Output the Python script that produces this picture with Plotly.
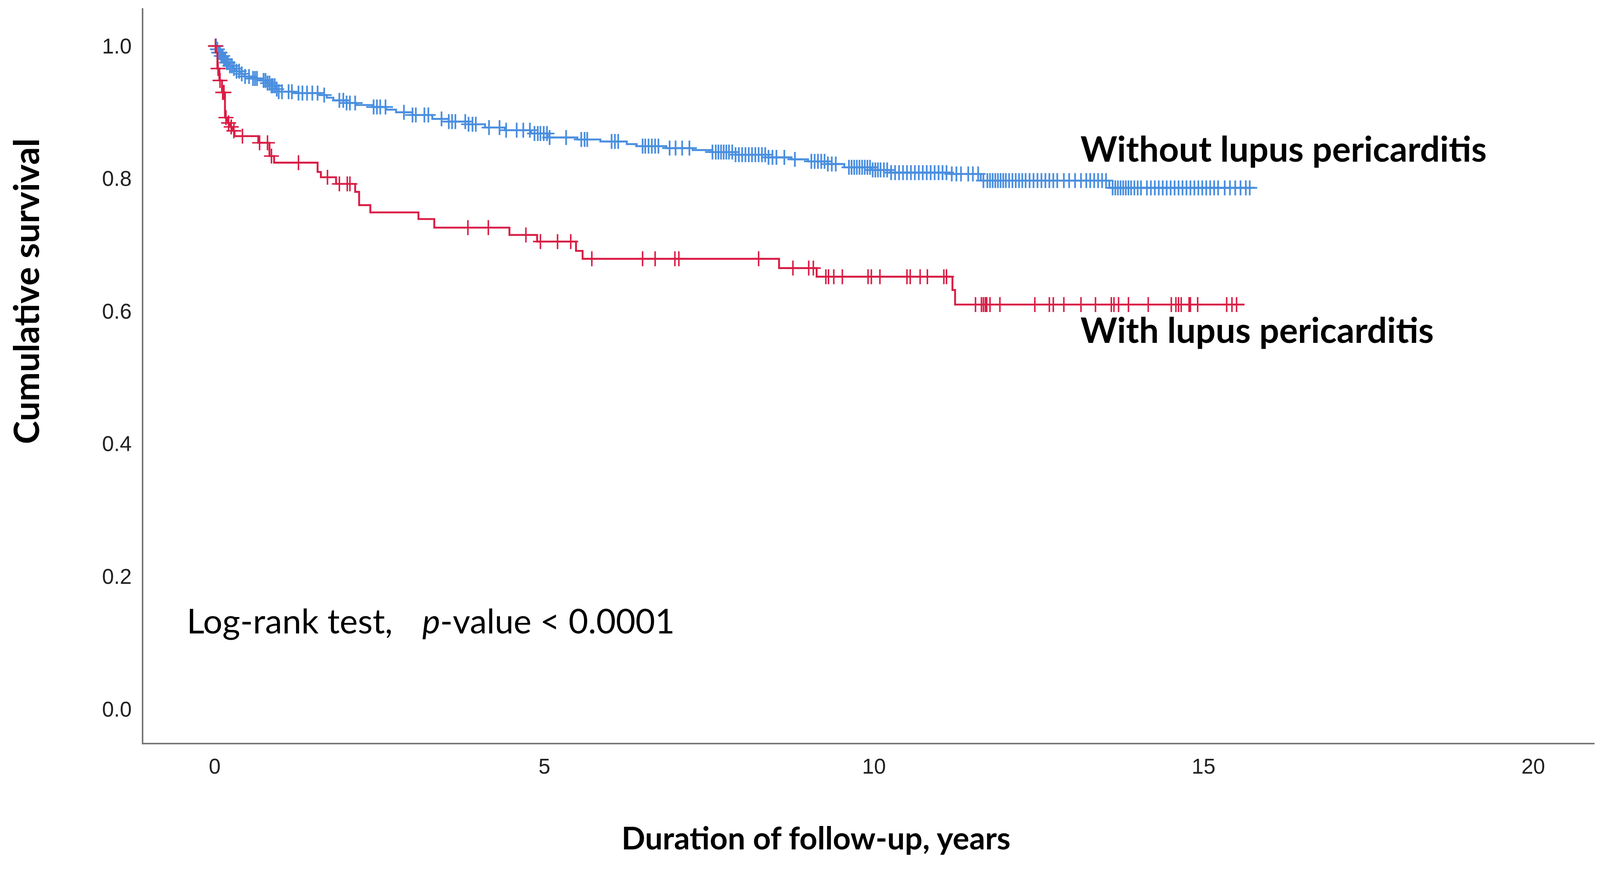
import numpy as np
import plotly.graph_objects as go

# ---------------- data ----------------
# Without lupus pericarditis: step times (years) and survival after each step
blue_step_t = [0.00, 0.03, 0.06, 0.10, 0.14, 0.18, 0.22, 0.27, 0.32, 0.38, 0.45, 0.55,
               0.70, 0.78, 0.86, 0.92, 0.97, 1.20, 1.60, 1.70, 1.80, 2.00, 2.15, 2.40,
               2.60, 2.75, 3.00, 3.30, 3.55, 3.85, 4.10, 4.40, 4.80, 5.05, 5.50, 5.85,
               6.25, 6.40, 6.85, 7.25, 7.55, 7.90, 8.40, 8.75, 9.00, 9.30, 9.55, 9.95,
               10.25, 11.15, 11.62, 13.57]
blue_step_s = [1.000, 0.995, 0.990, 0.985, 0.980, 0.975, 0.970, 0.966, 0.962, 0.958, 0.954, 0.951,
               0.948, 0.944, 0.940, 0.935, 0.931, 0.929, 0.926, 0.922, 0.918, 0.914, 0.911, 0.908,
               0.904, 0.900, 0.896, 0.890, 0.886, 0.882, 0.877, 0.873, 0.868, 0.862, 0.859, 0.856,
               0.852, 0.849, 0.846, 0.843, 0.840, 0.836, 0.832, 0.829, 0.826, 0.822, 0.817, 0.813,
               0.809, 0.807, 0.797, 0.786]
blue_end_t = 15.78

blue_censor_t = [0.02, 0.04, 0.06, 0.08, 0.10, 0.12, 0.14, 0.16, 0.18, 0.20, 0.23, 0.26, 0.29,
                 0.33, 0.37, 0.41, 0.46, 0.52, 0.58, 0.61, 0.64, 0.74, 0.77, 0.80, 0.83, 0.86,
                 0.88, 0.91, 0.94, 0.97, 1.02, 1.12, 1.17, 1.27, 1.33, 1.40, 1.48, 1.56, 1.66,
                 1.89, 1.95, 2.00, 2.05, 2.13, 2.41, 2.46, 2.51, 2.59, 2.87, 3.00, 3.05, 3.18,
                 3.24, 3.44, 3.55, 3.60, 3.65, 3.80, 3.85, 3.91, 3.96, 4.16, 4.32, 4.42, 4.58,
                 4.68, 4.78, 4.85, 4.90, 4.94, 4.99, 5.04, 5.08, 5.33, 5.56, 5.61, 5.65, 6.02,
                 6.07, 6.12, 6.49, 6.53, 6.58, 6.63, 6.68, 6.73, 6.90, 6.99, 7.09, 7.20,
                 7.55, 7.60, 7.64, 7.68, 7.72, 7.76, 7.80, 7.85, 7.90, 7.95, 8.00, 8.05, 8.10,
                 8.15, 8.20, 8.25, 8.30, 8.35, 8.40, 8.46, 8.52, 8.64, 8.80,
                 9.05, 9.10, 9.15, 9.20, 9.25, 9.30, 9.36, 9.42,
                 9.62, 9.66, 9.70, 9.74, 9.78, 9.82, 9.86, 9.90, 9.94, 9.98, 10.02, 10.06,
                 10.10, 10.15, 10.20, 10.26, 10.32, 10.38, 10.44, 10.50, 10.56, 10.62, 10.68,
                 10.74, 10.80, 10.86, 10.92, 10.98, 11.04, 11.10, 11.18, 11.25, 11.32, 11.43,
                 11.50, 11.58, 11.66,
                 11.72, 11.76, 11.80, 11.84, 11.88, 11.92, 11.96, 12.00, 12.05, 12.10, 12.15,
                 12.20, 12.25, 12.30, 12.36, 12.42, 12.48, 12.54, 12.60, 12.66, 12.72, 12.78,
                 12.88, 12.96, 13.05, 13.14, 13.22, 13.28, 13.34, 13.40, 13.46, 13.52,
                 13.62, 13.66, 13.70, 13.74, 13.78, 13.82, 13.86, 13.90, 13.95, 14.00, 14.05,
                 14.14, 14.20, 14.26, 14.32, 14.38, 14.44, 14.50, 14.56, 14.62, 14.68, 14.74,
                 14.80, 14.86, 14.92, 14.98, 15.04, 15.10, 15.16, 15.22, 15.32, 15.40, 15.48,
                 15.56, 15.64, 15.70]

# With lupus pericarditis
red_step_t = [0.00, 0.02, 0.04, 0.07, 0.11, 0.155, 0.19, 0.23, 0.27, 0.30, 0.66, 0.83,
              0.90, 1.56, 1.61, 1.84, 2.13, 2.19, 2.36, 3.09, 3.33, 4.47, 4.89, 5.48,
              5.58, 8.56, 9.13, 11.19, 11.23]
red_step_s = [1.000, 0.990, 0.966, 0.948, 0.930, 0.892, 0.884, 0.878, 0.872, 0.864, 0.854, 0.834,
              0.824, 0.810, 0.802, 0.792, 0.780, 0.760, 0.749, 0.739, 0.726, 0.715, 0.705, 0.691,
              0.679, 0.665, 0.652, 0.632, 0.610]
red_end_t = 15.62

red_censor_t = [0.01, 0.05, 0.08, 0.12, 0.14, 0.17, 0.21, 0.25, 0.29, 0.42, 0.68, 0.80, 0.86,
                1.27, 1.71, 1.89, 2.01, 2.05, 3.84, 4.15, 4.72, 4.94, 5.20, 5.40, 5.72, 6.49,
                6.68, 6.98, 7.04, 8.25, 8.77, 9.01, 9.08, 9.27, 9.31, 9.39, 9.52, 9.91, 9.96,
                10.09, 10.50, 10.55, 10.70, 10.81, 11.06, 11.10, 11.54, 11.63, 11.66, 11.69,
                11.71, 11.76, 11.91, 12.44, 12.66, 12.72, 12.88, 13.14, 13.36, 13.60, 13.64,
                13.71, 13.86, 14.16, 14.51, 14.58, 14.62, 14.66, 14.78, 14.80, 14.91, 15.35,
                15.43, 15.50]

x_ticks = [0, 5, 10, 15, 20]
y_ticks = [0.0, 0.2, 0.4, 0.6, 0.8, 1.0]
y_tick_text = ["0.0", "0.2", "0.4", "0.6", "0.8", "1.0"]

label_without = "Without lupus pericarditis"
label_with = "With lupus pericarditis"
logrank_a = "Log-rank test,"
logrank_b = "<i>p</i>-value < 0.0001"
x_title = "Duration of follow-up, years"
y_title = "Cumulative survival"

BLUE = "#4a8fdf"
RED = "#d91e46"

# page is rendered with a ~1.026 device scale: convert screenshot px -> css px
S = 4096 / 4202


def px(v):
    return v * S


def level_at(step_t, step_s, t):
    idx = np.searchsorted(np.asarray(step_t), np.asarray(t), side="right") - 1
    return np.asarray(step_s)[idx]


fig = go.Figure()

for st, ss, et, ct, col, name, mw in [
    (blue_step_t, blue_step_s, blue_end_t, blue_censor_t, BLUE, label_without, 4.5),
    (red_step_t, red_step_s, red_end_t, red_censor_t, RED, label_with, 4.0),
]:
    fig.add_trace(go.Scatter(
        x=list(st) + [et], y=list(ss) + [ss[-1]], mode="lines",
        line=dict(color=col, width=px(5), shape="hv"), name=name, showlegend=False,
        hoverinfo="skip"))
    fig.add_trace(go.Scatter(
        x=ct, y=level_at(st, ss, ct), mode="markers",
        marker=dict(symbol="cross-thin", size=px(28), line=dict(color=col, width=px(mw)),
                    color=col),
        showlegend=False, hoverinfo="skip"))

FONT = "Lato"
annotations = [
    dict(x=13.12, y=0.846, xref="x", yref="y", text="<b>" + label_without + "</b>",
         xanchor="left", yanchor="middle", showarrow=False,
         font=dict(family=FONT, size=px(92), color="black")),
    dict(x=13.12, y=0.573, xref="x", yref="y", text="<b>" + label_with + "</b>",
         xanchor="left", yanchor="middle", showarrow=False,
         font=dict(family=FONT, size=px(92), color="black")),
    dict(x=-0.435, y=0.134, xref="x", yref="y", text=logrank_a,
         xanchor="left", yanchor="middle", showarrow=False,
         font=dict(family=FONT, size=px(90), color="black")),
    dict(x=3.137, y=0.134, xref="x", yref="y", text=logrank_b,
         xanchor="left", yanchor="middle", showarrow=False,
         font=dict(family=FONT, size=px(89), color="black")),
    dict(x=-0.0813, y=0.615, xref="paper", yref="paper", text="<b>" + y_title + "</b>",
         textangle=-90, xanchor="center", yanchor="middle", showarrow=False,
         font=dict(family=FONT, size=px(92), color="black")),
    dict(x=0.4634, y=-0.1286, xref="paper", yref="paper", text="<b>" + x_title + "</b>",
         xanchor="center", yanchor="middle", showarrow=False,
         font=dict(family=FONT, size=px(82), color="black")),
]

tickfont = dict(family="Liberation Sans", size=px(56), color="#222222")

fig.update_layout(
    width=4096, height=round(2261 * S),
    margin=dict(l=px(377), r=px(14), t=px(22), b=px(310)),
    paper_bgcolor="white", plot_bgcolor="white",
    annotations=annotations,
    xaxis=dict(range=[-1.083, 20.93], tickvals=x_ticks, showgrid=False, zeroline=False,
               showline=True, linecolor="#777777", linewidth=px(4), ticks="",
               ticklabelstandoff=round(px(10)), tickfont=tickfont),
    yaxis=dict(range=[-0.051, 1.057], tickvals=y_ticks, ticktext=y_tick_text,
               showgrid=False, zeroline=False, showline=True, linecolor="#777777",
               linewidth=px(4), ticks="", ticklabelstandoff=round(px(15)), tickfont=tickfont),
)

fig.write_html("out.html", post_script="document.body.style.margin='0';",
               config={"displayModeBar": False})
